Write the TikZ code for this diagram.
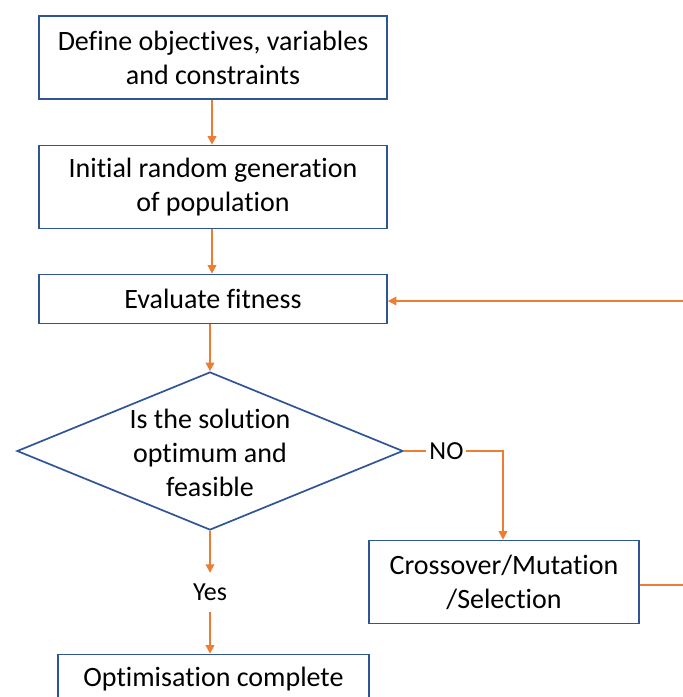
\documentclass[tikz,border=0pt]{standalone}
\usepackage{fontspec}
\setmainfont{Carlito}[Ligatures=NoCommon]
\usetikzlibrary{shapes.geometric,arrows.meta}
\definecolor{edgeblue}{HTML}{2F5597}
\definecolor{flow}{HTML}{ED7D31}
\tikzset{
  procbox/.style={draw=edgeblue, line width=1.7pt, fill=white, align=center,
    inner sep=0pt, font=\fontsize{28}{34}\selectfont},
  decision/.style={diamond, draw=edgeblue, line width=1.7pt, inner sep=0pt,
    minimum width=386pt, minimum height=158pt},
  txt/.style={align=center, font=\fontsize{28}{34}\selectfont},
  smalltxt/.style={align=center, font=\fontsize{26}{30}\selectfont},
  flowline/.style={draw=flow, line width=1.9pt},
  flowarrow/.style={flowline, -{Triangle[width=8.5pt,length=8.5pt]}}
}
\begin{document}
\begin{tikzpicture}[x=1pt,y=-1pt]
\useasboundingbox[fill=white] (0,0) rectangle (683,697);

\node[procbox, minimum width=348pt, minimum height=83pt] (define) at (213,57.5)
  {Define objectives, variables\\and constraints};
\node[procbox, minimum width=348pt, minimum height=83pt] (init) at (213,187)
  {Initial random generation\\of population};
\node[procbox, minimum width=348pt, minimum height=49pt] (eval) at (213,299)
  {Evaluate fitness};
\node[decision] (check) at (210,451) {};
\node[txt] at ([yshift=-1.5pt]check.center) {Is the solution\\optimum and\\feasible};
\node[procbox, minimum width=270pt, minimum height=83pt] (cross) at (504,582)
  {Crossover/Mutation\\/Selection};
\node[procbox, minimum width=311pt, minimum height=49pt] (done) at (213.5,679)
  {Optimisation complete};

\node[smalltxt, inner sep=0pt, minimum height=39pt] (yes) at (210,592.5) {Yes};
\coordinate (nocorner) at (503,451);
\coordinate (loopbottom) at (720,585);
\coordinate (looptop) at (720,301);

\draw[flowarrow] (define.south -| 212,0) -- (init.north -| 212,0);
\draw[flowarrow] (init.south -| 212,0) -- (eval.north -| 212,0);
\draw[flowarrow] (eval.south -| check.north) -- (check.north);
\draw[flowarrow] (check.south) -- (yes.north);
\draw[flowarrow] (yes.south) -- (yes.south |- done.north);
\draw[flowarrow] (check.east) -- node[pos=0.43, fill=white, inner sep=3pt,
  smalltxt] {NO} (nocorner) -- (nocorner |- cross.north);
\draw[flowarrow] (cross.east |- loopbottom) -- (loopbottom) -- (looptop)
  -- (eval.east |- looptop);
\end{tikzpicture}
\end{document}
